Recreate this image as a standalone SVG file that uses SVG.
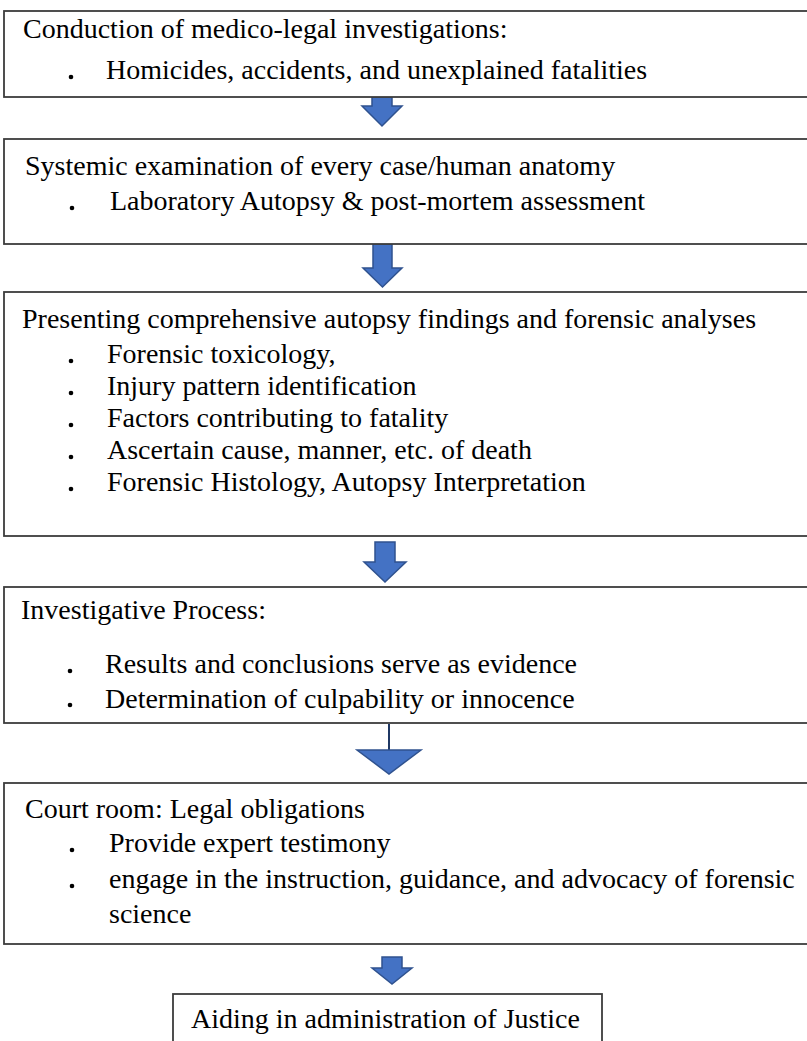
<svg xmlns="http://www.w3.org/2000/svg" width="807" height="1041" viewBox="0 0 807 1041">
<style>
.box{fill:#fff;stroke:#3c3c3c;stroke-width:1.8}
.t{font-family:'Liberation Serif','Tinos','Times New Roman','DejaVu Serif','Noto Serif',serif;font-size:28px;fill:#000}
.arr{fill:#4472C4;stroke:#2F528F;stroke-width:1.5;stroke-linejoin:miter}
.dot{fill:#000}
</style>
<defs>
<clipPath id="c4"><rect x="0" y="587" width="807" height="134"/></clipPath>
</defs>
<rect width="807" height="1041" fill="#fff"/>
<g id="connectors">
<polygon class="arr" points="372,97 392,97 392,106 402,106 382,126 362,106 372,106"/>
<polygon class="arr" points="373,244 392,244 392,268 402,268 382.5,287 363,268 373,268"/>
<polygon class="arr" points="375,542 395,542 395,562 406,562 385,582 364,562 375,562"/>
<line x1="389" y1="724" x2="389" y2="750" stroke="#1F3864" stroke-width="2"/>
<polygon class="arr" points="357,750 421,750 389,774"/>
<polygon class="arr" points="382,957 402,957 402,968 412,968 392,984 372,968 382,968"/>
</g>
<g id="n1">
<rect class="box" x="4" y="11" width="810" height="86"/>
<text class="t" x="23" y="38" font-family="Liberation Serif, serif">Conduction of medico-legal investigations:</text>
<circle class="dot" cx="71" cy="77" r="2.3"/>
<text class="t" x="106" y="79" font-family="Liberation Serif, serif">Homicides, accidents, and unexplained fatalities</text>
</g>
<g id="n2">
<rect class="box" x="4" y="139" width="810" height="105"/>
<text class="t" x="25" y="175">Systemic examination of every case/human anatomy</text>
<circle class="dot" cx="72" cy="208" r="2.3"/>
<text class="t" x="110" y="210">Laboratory Autopsy &amp; post-mortem assessment</text>
</g>
<g id="n3">
<rect class="box" x="4" y="292" width="810" height="244"/>
<text class="t" x="22" y="328">Presenting comprehensive autopsy findings and forensic analyses</text>
<circle class="dot" cx="71" cy="361" r="2.3"/>
<text class="t" x="107" y="363">Forensic toxicology,</text>
<circle class="dot" cx="71" cy="393" r="2.3"/>
<text class="t" x="107" y="395">Injury pattern identification</text>
<circle class="dot" cx="71" cy="425" r="2.3"/>
<text class="t" x="107" y="427">Factors contributing to fatality</text>
<circle class="dot" cx="71" cy="457" r="2.3"/>
<text class="t" x="107" y="459">Ascertain cause, manner, etc. of death</text>
<circle class="dot" cx="71" cy="489" r="2.3"/>
<text class="t" x="107" y="491">Forensic Histology, Autopsy Interpretation</text>
</g>
<g id="n4">
<rect class="box" x="4" y="587" width="810" height="136"/>
<text class="t" x="21" y="619">Investigative Process:</text>
<circle class="dot" cx="70" cy="671" r="2.3"/>
<text class="t" x="105" y="673">Results and conclusions serve as evidence</text>
<circle class="dot" cx="70" cy="705" r="2.3"/>
<text class="t" x="105" y="708" clip-path="url(#c4)">Determination of culpability or innocence</text>
</g>
<g id="n5">
<rect class="box" x="4" y="783" width="810" height="161"/>
<text class="t" x="25" y="818">Court room: Legal obligations</text>
<circle class="dot" cx="72" cy="850" r="2.3"/>
<text class="t" x="109" y="852">Provide expert testimony</text>
<circle class="dot" cx="72" cy="886" r="2.3"/>
<text class="t" x="109" y="888">engage in the instruction, guidance, and advocacy of forensic</text>
<text class="t" x="109" y="923">science</text>
</g>
<g id="n6">
<rect class="box" x="173" y="994" width="429" height="60"/>
<text class="t" x="191" y="1028">Aiding in administration of Justice</text>
</g>
</svg>
